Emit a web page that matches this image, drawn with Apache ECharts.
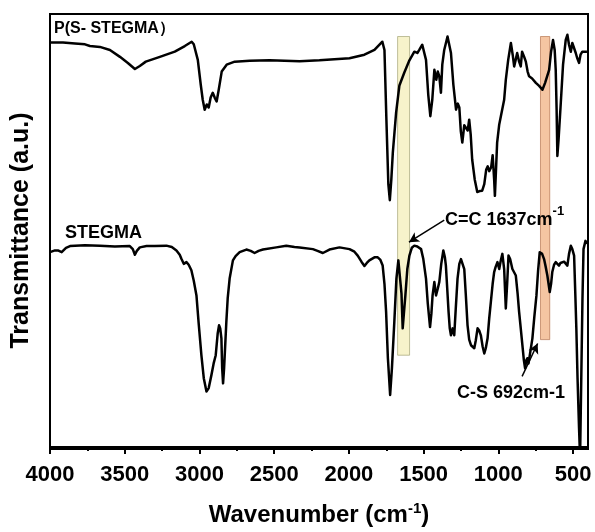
<!DOCTYPE html>
<html>
<head>
<meta charset="utf-8">
<script src="https://cdn.jsdelivr.net/npm/echarts@6/dist/echarts.min.js"></script>
<style>
  html, body { margin: 0; padding: 0; background: #fff; }
  #chart { width: 595px; height: 532px; }
</style>
</head>
<body>
<div id="chart"></div>
<script>
// FTIR spectra: wavenumber (cm-1) vs transmittance (arbitrary units, 0-100 frame)
const wnTop = [4000,3913,3833,3766,3733,3666,3599,3532,3479,3432,3399,3359,3265,3165,3098,3052,3038,3011,2991,2978,2965,2951,2938,2925,2911,2898,2885,2871,2851,2818,2764,2664,2531,2330,2197,1996,1896,1829,1776,1762,1749,1736,1726,1716,1706,1684,1662,1629,1595,1562,1542,1529,1509,1484,1469,1455,1442,1428,1415,1405,1395,1384,1375,1362,1340,1317,1301,1283,1271,1261,1251,1241,1228,1217,1205,1195,1185,1175,1158,1141,1125,1108,1094,1081,1071,1061,1048,1038,1028,1023,1014,1008,994,983,974,961,950,934,916,904,894,884,874,861,850,841,827,816,804,794,774,749,727,705,687,660,647,634,623,616,610,605,597,582,567,549,538,527,515,505,493,482,473,460,450,438,423,407];
const tTop = [93.4,93.4,93.2,93.0,92.6,92.4,91.7,90.1,88.7,87.3,88.0,89.0,90.1,91.3,92.6,93.6,93.0,89.4,83.6,80.2,77.9,79.1,78.4,80.7,81.8,80.7,79.8,82.5,86.7,88.3,89.0,89.2,89.3,89.1,89.3,89.8,90.6,91.7,93.6,91.7,75.6,60.7,57.0,61.8,68.0,77.2,83.5,86.5,89.3,91.3,91.0,91.7,92.9,89.4,81.4,76.4,80.2,87.1,84.8,86.7,85.6,81.8,88.3,91.7,94.8,91.0,83.7,77.9,79.3,78.4,72.9,70.3,74.3,74.1,73.1,75.6,72.2,66.4,61.8,58.9,59.1,59.2,60.7,64.1,64.8,63.7,64.6,67.4,61.8,58.0,65.3,70.3,74.5,76.4,76.3,80.2,84.8,89.4,93.3,90.6,87.9,89.4,91.0,89.0,87.9,91.3,90.1,89.0,86.7,85.6,85.1,84.1,83.4,82.5,84.1,87.1,91.3,94.0,91.7,87.1,77.9,67.2,71.0,79.5,88.3,94.0,95.2,92.9,91.3,93.3,92.9,91.0,89.9,88.7,90.6,91.3,91.3,91.3];

const wnBottom = [4000,3967,3947,3922,3893,3866,3766,3666,3566,3466,3446,3432,3419,3399,3354,3299,3221,3185,3154,3132,3120,3105,3087,3072,3054,3038,3020,3005,2987,2971,2953,2938,2920,2905,2891,2878,2869,2861,2853,2848,2842,2835,2820,2811,2798,2776,2758,2731,2686,2657,2631,2604,2575,2486,2419,2364,2330,2241,2210,2174,2130,2063,1996,1963,1941,1916,1896,1880,1863,1829,1807,1789,1774,1762,1751,1739,1724,1712,1696,1682,1669,1656,1648,1640,1632,1622,1609,1595,1579,1562,1542,1517,1502,1484,1472,1457,1448,1440,1428,1417,1405,1395,1382,1368,1358,1351,1342,1333,1325,1317,1306,1295,1285,1273,1261,1250,1238,1228,1218,1206,1195,1183,1161,1151,1139,1128,1117,1105,1094,1084,1072,1061,1050,1038,1028,1018,1006,994,984,973,961,950,941,932,921,906,894,883,871,861,850,839,829,821,813,806,798,788,772,759,745,734,723,707,694,683,672,656,647,639,627,616,605,594,584,572,560,549,538,527,515,505,493,484,478,470,460,453,443,437,430,417,407];
const tBottom = [45.0,45.4,45.4,45.0,46.0,46.4,46.6,46.5,46.3,46.4,45.7,44.4,45.3,46.1,46.4,46.4,46.5,46.2,45.4,44.4,43.4,42.3,42.7,42.1,40.8,38.4,35.0,28.5,21.2,15.9,12.8,13.6,16.6,19.3,21.2,26.2,28.1,27.4,25.1,18.2,14.7,18.2,28.9,34.3,38.9,43.1,44.1,45.0,45.6,45.3,44.8,45.3,45.6,46.1,46.5,46.2,46.1,45.7,45.3,44.8,45.6,46.1,45.7,45.1,44.2,42.8,41.8,42.5,43.1,43.8,43.8,43.2,41.9,37.7,31.2,20.5,12.0,18.2,28.9,38.9,43.1,42.7,35.4,27.4,30.8,35.0,41.1,44.2,46.0,46.5,46.3,45.7,43.4,38.9,33.1,27.7,30.8,35.0,38.1,35.0,36.6,38.1,42.3,45.4,43.9,41.9,36.6,31.2,27.4,25.8,27.4,25.8,31.9,38.9,42.3,43.4,43.0,41.1,35.4,28.1,24.8,23.5,22.8,24.6,27.4,26.9,25.8,23.2,21.6,22.8,25.1,29.7,33.5,37.7,40.4,41.6,42.7,41.1,43.0,44.6,41.1,32.0,37.7,44.2,43.4,41.1,40.7,39.6,35.4,31.2,27.4,23.5,20.0,18.2,20.0,20.5,19.3,19.7,25.1,30.1,35.0,40.7,45.0,44.6,43.4,41.6,39.6,35.8,37.7,40.4,42.1,42.7,42.5,41.9,42.5,42.7,42.8,43.1,41.9,44.6,46.5,45.7,44.2,34.3,27.4,15.9,4.4,-2.5,-2.5,34.3,45.7,47.6,46.9];

// Highlighted absorption regions: [wavenumber from, wavenumber to, T low, T high]
const bandCC = [1674, 1594, 21.2, 94.8];
const bandCS = [718, 656, 24.8, 94.8];

// Annotation arrows: [[wn, T] start, [wn, T] tip]
const arrowCC = [[1362, 52.4], [1598, 47.3]];
const arrowCS = [[841, 16.3], [737, 23.9]];

const majorTicks = [500, 1000, 1500, 2000, 2500, 3000, 3500, 4000];
const minorTicks = [750, 1250, 1750, 2250, 2750, 3250, 3750];

const zip = (xs, ys) => xs.map((x, i) => [x, ys[i]]);
const FONT = '"Liberation Sans", Arial, Helvetica, sans-serif';

const GRID = { left: 50, right: 7, top: 14, bottom: 83 };
const W = 595, H = 532;

const chart = echarts.init(document.getElementById('chart'), null, { renderer: 'canvas' });

chart.setOption({
  animation: false,
  backgroundColor: '#fff',
  grid: Object.assign({ show: false }, GRID),
  xAxis: [
    {
      type: 'value', min: 400, max: 4000, inverse: true, position: 'bottom',
      name: '{a|Wavenumber (cm}{s|-1}{a|)}',
      nameLocation: 'middle', nameGap: 54,
      nameTextStyle: {
        rich: {
          a: { fontSize: 24, fontWeight: 'bold', fontFamily: FONT, color: '#000', lineHeight: 28 },
          s: { fontSize: 15, fontWeight: 'bold', fontFamily: FONT, color: '#000', verticalAlign: 'top', lineHeight: 28 }
        }
      },
      axisLine: { show: true, onZero: false, lineStyle: { color: '#000', width: 2 } },
      axisTick: { show: true, inside: false, length: 7, customValues: majorTicks, lineStyle: { color: '#000', width: 2 } },
      axisLabel: {
        show: true, customValues: majorTicks, margin: 17,
        formatter: v => String(v),
        fontSize: 22, fontWeight: 'bold', fontFamily: FONT, color: '#000'
      },
      splitLine: { show: false }
    },
    {
      type: 'value', min: 400, max: 4000, inverse: true, position: 'bottom',
      axisLine: { show: false },
      axisTick: { show: true, inside: false, length: 4, customValues: minorTicks, lineStyle: { color: '#000', width: 2 } },
      axisLabel: { show: false },
      splitLine: { show: false }
    }
  ],
  yAxis: {
    type: 'value', min: 0, max: 100, position: 'left',
    name: 'Transmittance (a.u.)',
    nameLocation: 'middle', nameGap: 16, nameRotate: 90,
    nameTextStyle: { fontSize: 25, fontWeight: 'bold', fontFamily: FONT, color: '#000' },
    axisLine: { show: false },
    axisTick: { show: false },
    axisLabel: { show: false }, splitLine: { show: false }
  },
  series: [
    {
      name: 'P(S- STEGMA）', type: 'line', data: zip(wnTop, tTop),
      showSymbol: false, clip: true, z: 2,
      lineStyle: { color: '#000', width: 2.5, join: 'round' }
    },
    {
      name: 'STEGMA', type: 'line', data: zip(wnBottom, tBottom),
      showSymbol: false, clip: true, z: 2,
      lineStyle: { color: '#000', width: 2.5, join: 'round' }
    },
    {
      name: 'bands', type: 'line', data: [], z: 5,
      markArea: {
        silent: true,
        data: [
          [
            { coord: [bandCC[0], bandCC[3]], itemStyle: { color: 'rgba(240,234,160,0.55)', borderColor: 'rgba(150,150,100,0.6)', borderWidth: 1 } },
            { coord: [bandCC[1], bandCC[2]] }
          ],
          [
            { coord: [bandCS[0], bandCS[3]], itemStyle: { color: 'rgba(236,140,70,0.5)', borderColor: 'rgba(170,100,60,0.6)', borderWidth: 1 } },
            { coord: [bandCS[1], bandCS[2]] }
          ]
        ]
      },
      markLine: {
        silent: true,
        symbolSize: [8, 10],
        label: { show: false },
        lineStyle: { color: '#000', width: 1.5, type: 'solid' },
        data: [
          [ { coord: arrowCC[0], symbol: 'none' }, { coord: arrowCC[1], symbol: 'arrow' } ],
          [ { coord: arrowCS[0], symbol: 'none' }, { coord: arrowCS[1], symbol: 'arrow' } ]
        ]
      }
    }
  ],
  graphic: [
    {
      // plot frame
      type: 'rect', z: 20, silent: true,
      shape: { x: GRID.left, y: GRID.top, width: W - GRID.left - GRID.right, height: H - GRID.top - GRID.bottom },
      style: { fill: null, stroke: '#000', lineWidth: 2 }
    },
    {
      type: 'text', left: 54, top: 21, z: 10,
      style: { text: 'P(S- STEGMA）', font: 'bold 16px ' + FONT, fill: '#000' }
    },
    {
      type: 'text', left: 65, top: 224, z: 10,
      style: { text: 'STEGMA', font: 'bold 18px ' + FONT, fill: '#000' }
    },
    {
      type: 'text', left: 445, top: 205, z: 10,
      style: {
        text: '{b|C=C 1637cm}{s|-1}', fill: '#000',
        rich: {
          b: { fontSize: 18, fontWeight: 'bold', fontFamily: FONT, lineHeight: 24, verticalAlign: 'bottom' },
          s: { fontSize: 13, fontWeight: 'bold', fontFamily: FONT, lineHeight: 24, verticalAlign: 'top' }
        }
      }
    },
    {
      type: 'text', left: 457, top: 384, z: 10,
      style: { text: 'C-S 692cm-1', font: 'bold 18px ' + FONT, fill: '#000' }
    }
  ]
});
</script>
</body>
</html>
